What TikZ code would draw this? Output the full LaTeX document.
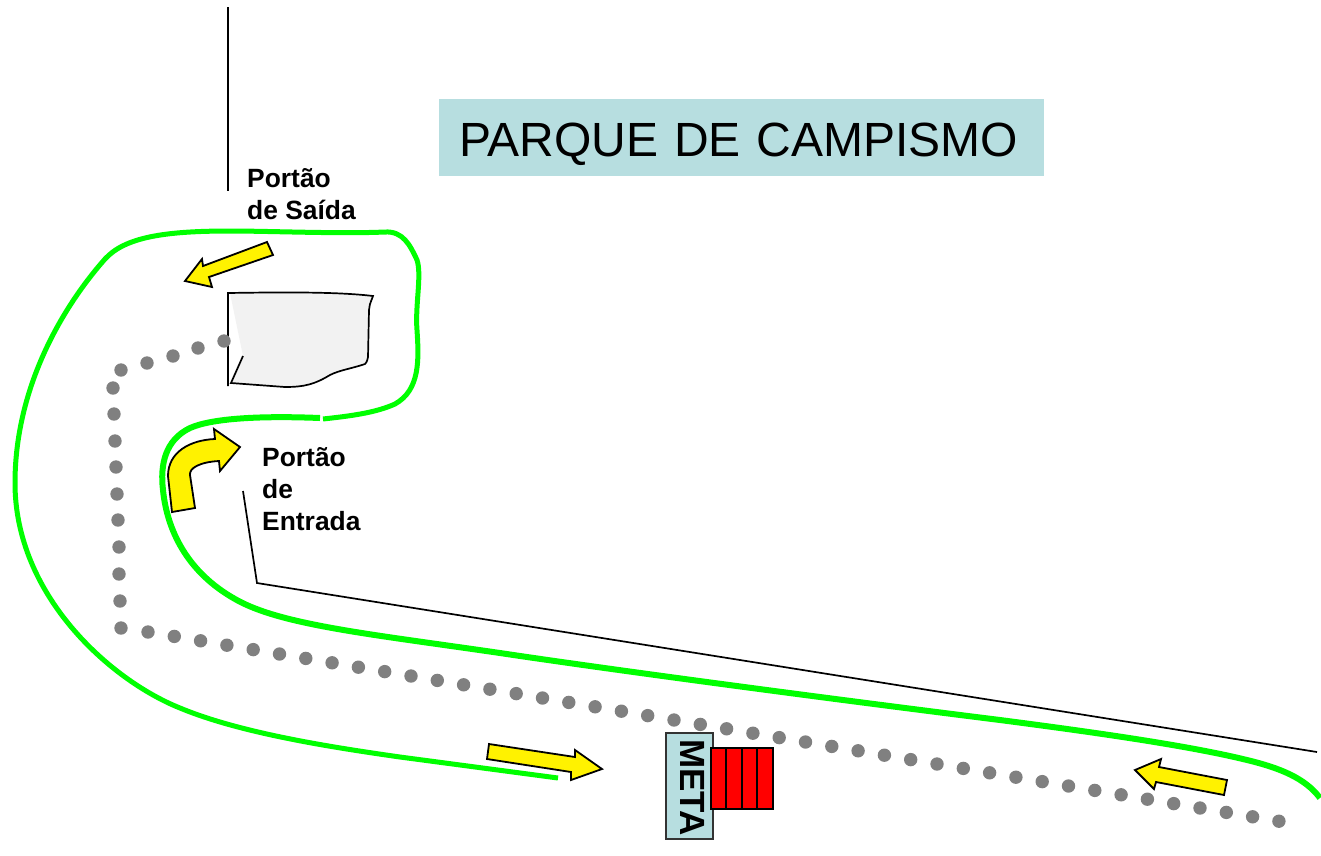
\documentclass[tikz,border=0pt]{standalone}
\usepackage{fontspec}
\setmainfont{Liberation Sans}
\usepackage{tikz}
\usetikzlibrary{positioning}
\definecolor{signblue}{HTML}{B7DEE0}
\tikzset{
	roadline/.style={draw=green!100!black, line width=5pt, line cap=butt, line join=round},
	fence/.style={draw=black, line width=1.7pt},
	flow/.style={draw=black, fill=yellow, line width=1.8pt, line join=miter},
	trackdot/.style={fill=black!50},
	gatelabel/.style={anchor=north west, align=left, inner sep=0pt, font=\fontsize{26.4}{32}\selectfont\bfseries},
}
\begin{document}
\begin{tikzpicture}[x=1pt, y=-1pt]
			\useasboundingbox (0,0) rectangle (1321,855);
			% title
			\node[fill=signblue, minimum width=605pt, minimum height=77pt, inner sep=0pt, text width=565pt, text height=41pt, text depth=3pt, align=left, font=\fontsize{48}{48}\selectfont] (Title) at (741.5,137.5) {PARQUE DE CAMPISMO};
			% green road
			\draw[roadline] (558,778) -- (400,757) .. controls (330,747) and (240,733) .. (180,708) .. controls (110,680) and (15,595) .. (15,483) .. controls (15,390) and (60,310) .. (105,259) .. controls (125,237) and (165,231) .. (230,231) .. controls (270,231) and (340,234) .. (385,232) .. controls (403,231) and (410,245) .. (417,260) .. controls (422,275) and (415,305) .. (417,330) .. controls (419,360) and (420,390) .. (395,404) .. controls (375,413) and (350,416) .. (323,419);
			\draw[roadline, line width=6pt] (320,418) .. controls (270,416) and (215,417) .. (190,428) .. controls (165,440) and (160,465) .. (163,490) .. controls (167,530) and (187,572) .. (235,599) .. controls (280,625) and (370,634) .. (500,653) .. controls (600,668) and (800,695) .. (1000,720) .. controls (1100,733) and (1190,746) .. (1247,760) .. controls (1280,768) and (1305,778) .. (1320,798);
			% fences
			\draw[fence] (228,7) -- (228,191);
			\draw[fence] (243,491) -- (257,583) -- (1317,752);
			% camp building
			\fill[black!5] (230,293) -- (333,293) -- (373,296) -- (369,310) -- (368,357) -- (365,364) -- (330,375) -- (300,387) -- (231,383) -- (243,356) -- cycle;
			\draw[fence] (228,386) -- (228,293) .. controls (290,292) and (340,292) .. (373,296) .. controls (370,304) and (369,306) .. (369,310) -- (368,357) .. controls (367,362) and (366,363) .. (365,364) .. controls (350,369) and (340,370) .. (330,375) .. controls (315,384) and (305,387) .. (285,387) -- (231,383) -- (243,356);
			% dotted track
			\foreach \dotx/\doty in {224/341, 198/348, 173/356, 147/363, 121/370, 113/388, 114/414, 115/441, 116/467, 117/494, 118/520, 119/547, 119/574, 120/601, 121/628}
				\fill[trackdot] (\dotx,\doty) circle (6.7);
			\foreach \i in {0,...,43}
				\fill[trackdot] ({148+26.3*\i},{632+4.4*\i}) circle (6.7);
			% yellow arrows
			\draw[flow] (267,242) -- (273,255) -- (209,277) -- (212,287) -- (185,281) -- (202,259) -- (203,266) -- cycle;
			\draw[flow] (489,744) -- (487,759) -- (571,772) -- (571,780) -- (602,769) -- (575,750) -- (575,757) -- cycle;
			\draw[flow] (1227,780) -- (1224,795) -- (1156,782) -- (1154,789) -- (1135,770) -- (1161,759) -- (1159,767) -- cycle;
			\draw[flow] (172,512) -- (195,508) -- (190,475) .. controls (189,468) and (200,462) .. (219,461) -- (220,471) -- (240,447) -- (214,429) -- (215,439) .. controls (190,440) and (168,452) .. (168,476) -- cycle;
			% finish
			\node[draw=black!80, line width=1.7pt, fill=signblue, minimum width=47pt, minimum height=106pt, inner sep=0pt] (Meta) at (689.5,786) {};
			\node[rotate=-90, font=\fontsize{35}{35}\selectfont\bfseries, inner sep=0pt] (MetaText) at (693,787.5) {META};
			\foreach \barx/\barw in {711/15, 726/16, 742/15, 757/16}
				\draw[fill=red, line width=1.7pt] (\barx,748) rectangle ++(\barw,61);
			% gate labels
			\node[gatelabel] (GateOut) at (247,168) {Portão\\de Saída};
			\node[gatelabel] (GateIn) at (262,447) {Portão\\de\\Entrada};
		\end{tikzpicture}
\end{document}
